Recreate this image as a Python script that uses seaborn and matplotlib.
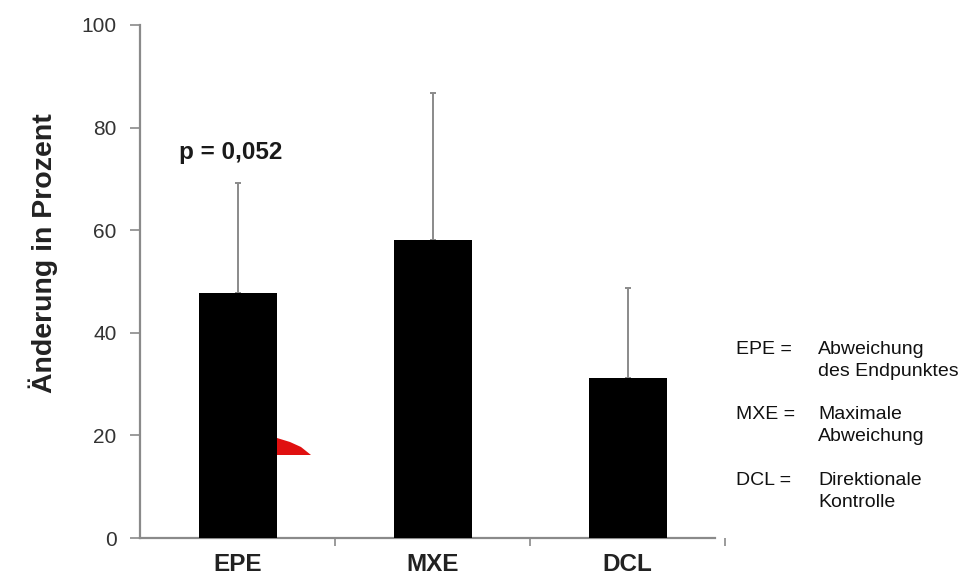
import matplotlib
matplotlib.use("Agg")
import matplotlib.pyplot as plt
from matplotlib.patches import Polygon, Rectangle
import numpy as np
import pandas as pd
import seaborn as sns

# Data
categories = ["EPE", "MXE", "DCL"]
change_pct = [47.8, 58.1, 31.2]
sd_upper = [21.4, 28.6, 17.5]
y_ticks = [0, 20, 40, 60, 80, 100]
p_label = "p = 0,052"
abbreviations = ["EPE =", "MXE =", "DCL ="]
definitions = ["Abweichung\ndes Endpunktes", "Maximale\nAbweichung", "Direktionale\nKontrolle"]

sns.set_style("ticks")
plt.rcParams["font.family"] = ["Liberation Sans", "DejaVu Sans"]

W, H = 972, 582
fig = plt.figure(figsize=(W / 100, H / 100), dpi=100)
fig.patch.set_facecolor("white")
ax = fig.add_axes([140 / W, 1 - 538 / H, (725 - 140) / W, (538 - 25) / H])

df = pd.DataFrame({"Messgröße": categories, "Änderung": change_pct})
sns.barplot(data=df, x="Messgröße", y="Änderung", color="black", width=0.4,
            saturation=1, errorbar=None, edgecolor="black", linewidth=0, ax=ax,
            zorder=3)

# one-sided standard deviation whiskers
x_pos = np.arange(len(categories))
ax.errorbar(x_pos, change_pct, yerr=[np.zeros(len(categories)), sd_upper],
            fmt="none", ecolor="#8a8a8a", elinewidth=1.4, capsize=2.5,
            capthick=1.4, zorder=2)

ax.set_xlim(-0.5, 2.5)
ax.set_ylim(0, 100)
ax.set_yticks(y_ticks)
ax.set_yticklabels([str(t) for t in y_ticks], fontsize=15, color="#333333")
ax.set_xticks(x_pos)
ax.set_xticklabels(categories, fontsize=17.5, fontweight="bold", color="#222222")
ax.set_xticks([0.5, 1.5, 2.5], minor=True)
ax.tick_params(axis="x", which="major", length=0, pad=11)
ax.tick_params(axis="x", which="minor", length=6, width=1.2, color="#8a8a8a",
               direction="out")
ax.tick_params(axis="y", length=7, width=1.2, color="#8a8a8a", pad=10,
               direction="out")

ax.set_xlabel("")
ax.set_ylabel("Änderung in Prozent", fontsize=20.5, fontweight="bold",
              color="#222222")
ax.yaxis.set_label_coords(-0.140, (538 - 253) / 513)

for side in ("top", "right"):
    ax.spines[side].set_visible(False)
for side in ("left", "bottom"):
    ax.spines[side].set_color("#8a8a8a")
    ax.spines[side].set_linewidth(1.6)
ax.spines["bottom"].set_bounds(-0.5, 2.45)

# significance annotation above EPE
ax.text(-0.035, 75.2, p_label, ha="center", va="center", fontsize=17.5,
        fontweight="bold", color="#1a1a1a")

# abbreviation key on the right
key_top = [341, 406, 472]
for abbr, text, y in zip(abbreviations, definitions, key_top):
    fig.text(736 / W, 1 - y / H, abbr, ha="left", va="top", fontsize=14,
             color="#111111")
    fig.text(818 / W, 1 - y / H, text, ha="left", va="top", fontsize=14,
             color="#111111", linespacing=1.35)

# red wedge and white patch next to the EPE bar
wedge = Polygon([(277 / W, 1 - 438 / H), (290 / W, 1 - 442 / H),
                 (301 / W, 1 - 447 / H), (311 / W, 1 - 455 / H),
                 (277 / W, 1 - 455 / H)], closed=True,
                transform=fig.transFigure, facecolor="#e01010",
                edgecolor="none", zorder=10)
cover = Rectangle((277 / W, 1 - 525 / H), 48 / W, 70 / H,
                  transform=fig.transFigure, facecolor="white",
                  edgecolor="none", zorder=11)
fig.patches.extend([wedge, cover])

fig.savefig("out.png", dpi=100)
